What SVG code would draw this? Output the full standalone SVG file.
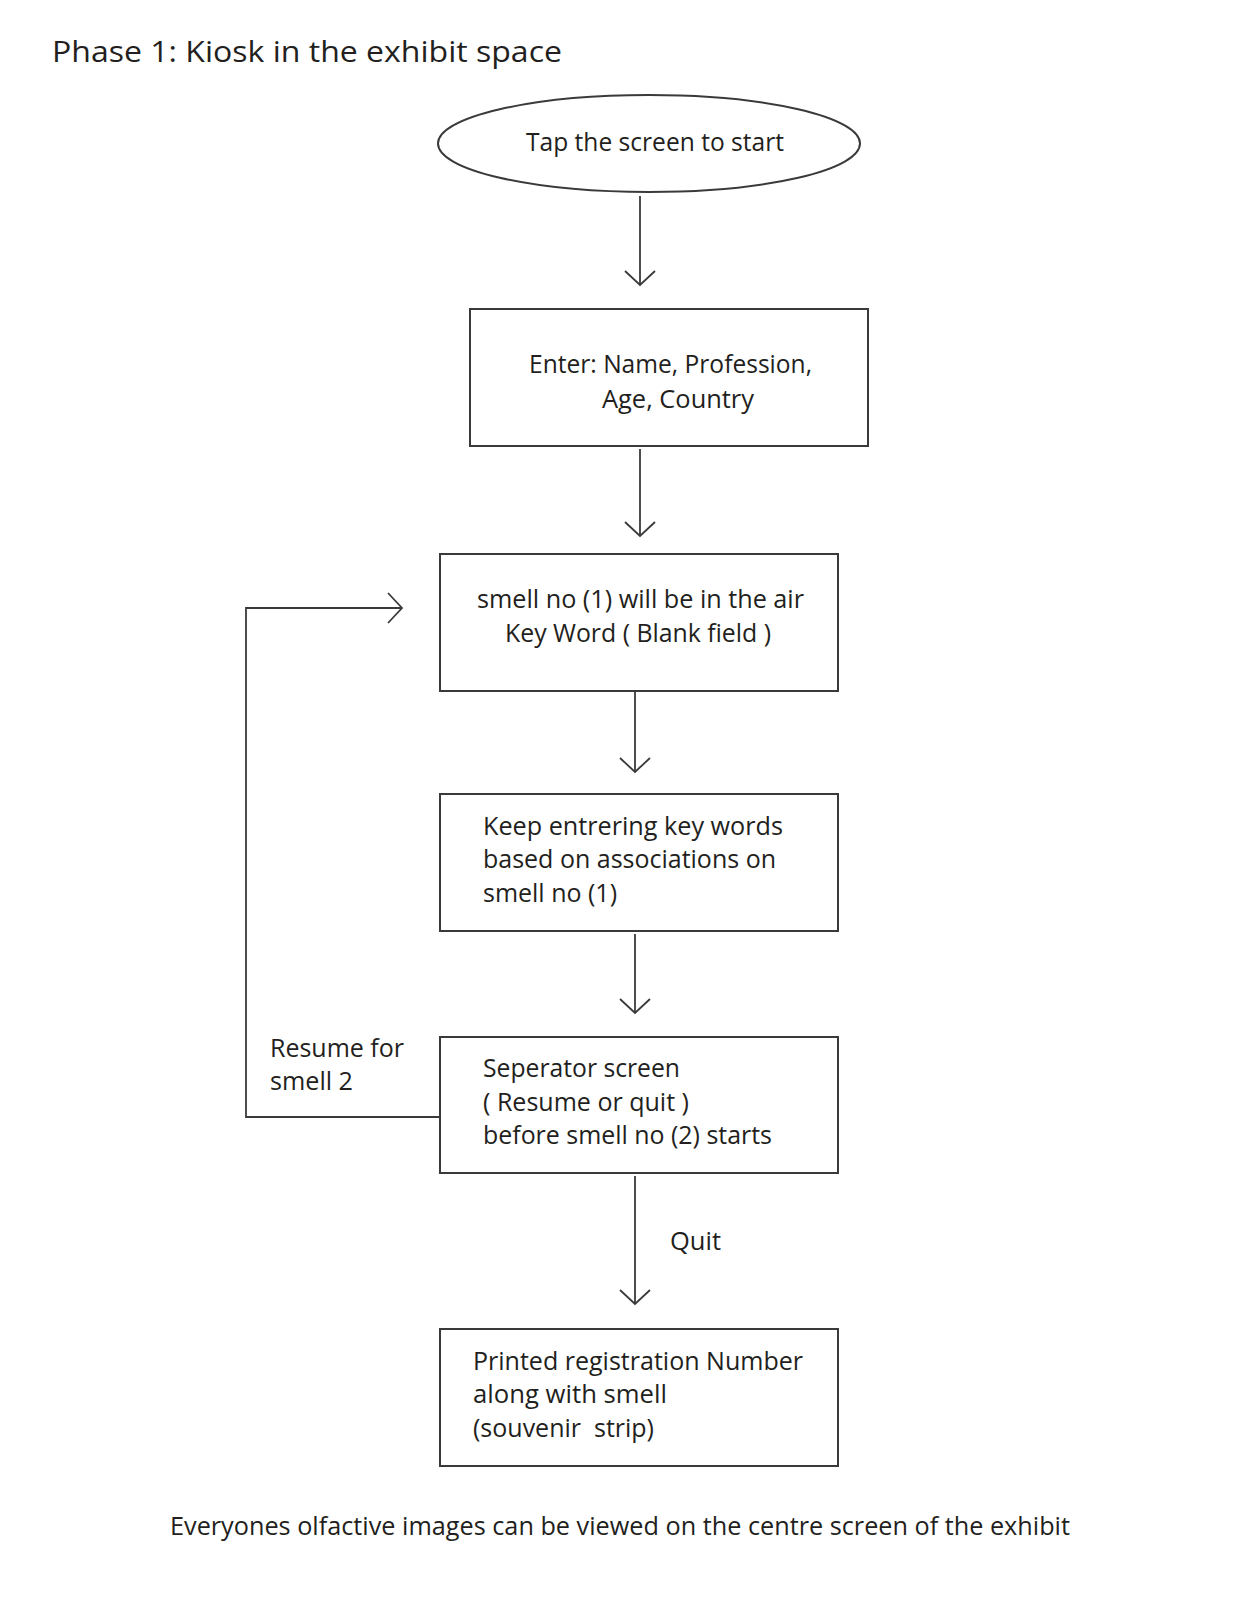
<svg xmlns="http://www.w3.org/2000/svg" width="1236" height="1600" viewBox="0 0 1236 1600">
<style>
  .t { font-family: "Open Sans", "Noto Sans", "Liberation Sans", sans-serif; font-size: 25px; fill: #231f20; white-space: pre; }
  .title { font-size: 30px; }
  .box { fill: #ffffff; stroke: #3a3a3a; stroke-width: 2; }
  .conn { fill: none; stroke: #3a3a3a; stroke-width: 1.8; }
</style>
<defs>
  <marker id="ah" viewBox="-16 -16 18 32" refX="0" refY="0" markerWidth="18" markerHeight="32" markerUnits="userSpaceOnUse" orient="auto">
    <path d="M-14,-15 L0,0 L-14,15" fill="none" stroke="#3a3a3a" stroke-width="1.8"/>
  </marker>
</defs>
<rect x="0" y="0" width="1236" height="1600" fill="#ffffff"/>

<text class="t title" x="52" y="62" textLength="510" lengthAdjust="spacingAndGlyphs">Phase 1: Kiosk in the exhibit space</text>

<g id="connectors">
  <line class="conn" x1="640" y1="196" x2="640" y2="285" marker-end="url(#ah)"/>
  <line class="conn" x1="640" y1="449" x2="640" y2="536" marker-end="url(#ah)"/>
  <line class="conn" x1="635" y1="692" x2="635" y2="772" marker-end="url(#ah)"/>
  <line class="conn" x1="635" y1="934" x2="635" y2="1013" marker-end="url(#ah)"/>
  <line class="conn" x1="635" y1="1176" x2="635" y2="1304" marker-end="url(#ah)"/>
  <polyline class="conn" points="440,1117 246,1117 246,608 402,608" marker-end="url(#ah)"/>
  <text class="t" x="270" y="1057" textLength="134" lengthAdjust="spacingAndGlyphs">Resume for</text>
  <text class="t" x="270" y="1090" textLength="83" lengthAdjust="spacingAndGlyphs">smell 2</text>
  <text class="t" x="670" y="1250" textLength="51" lengthAdjust="spacingAndGlyphs">Quit</text>
</g>

<g id="start">
  <ellipse class="box" cx="649" cy="143.5" rx="211" ry="48.5"/>
  <text class="t" x="526" y="151" textLength="258" lengthAdjust="spacingAndGlyphs">Tap the screen to start</text>
</g>

<g id="enter">
  <rect class="box" x="470" y="309" width="398" height="137"/>
  <text class="t" x="529" y="373" textLength="283" lengthAdjust="spacingAndGlyphs">Enter: Name, Profession,</text>
  <text class="t" x="602" y="408" textLength="152" lengthAdjust="spacingAndGlyphs">Age, Country</text>
</g>

<g id="smell1">
  <rect class="box" x="440" y="554" width="398" height="137"/>
  <text class="t" x="477" y="608" textLength="327" lengthAdjust="spacingAndGlyphs">smell no (1) will be in the air</text>
  <text class="t" x="505" y="642" textLength="266" lengthAdjust="spacingAndGlyphs">Key Word ( Blank field )</text>
</g>

<g id="keywords">
  <rect class="box" x="440" y="794" width="398" height="137"/>
  <text class="t" x="483" y="835" textLength="300" lengthAdjust="spacingAndGlyphs">Keep entrering key words</text>
  <text class="t" x="483" y="868" textLength="293" lengthAdjust="spacingAndGlyphs">based on associations on</text>
  <text class="t" x="483" y="902" textLength="134" lengthAdjust="spacingAndGlyphs">smell no (1)</text>
</g>

<g id="separator">
  <rect class="box" x="440" y="1037" width="398" height="136"/>
  <text class="t" x="483" y="1077" textLength="197" lengthAdjust="spacingAndGlyphs">Seperator screen</text>
  <text class="t" x="483" y="1111" textLength="206" lengthAdjust="spacingAndGlyphs">( Resume or quit )</text>
  <text class="t" x="483" y="1144" textLength="289" lengthAdjust="spacingAndGlyphs">before smell no (2) starts</text>
</g>

<g id="printed">
  <rect class="box" x="440" y="1329" width="398" height="137"/>
  <text class="t" x="473" y="1370" textLength="330" lengthAdjust="spacingAndGlyphs">Printed registration Number</text>
  <text class="t" x="473" y="1403" textLength="194" lengthAdjust="spacingAndGlyphs">along with smell</text>
  <text class="t" x="473" y="1437" textLength="181" lengthAdjust="spacingAndGlyphs">(souvenir  strip)</text>
</g>

<text class="t" x="170" y="1535" textLength="900" lengthAdjust="spacingAndGlyphs">Everyones olfactive images can be viewed on the centre screen of the exhibit</text>
</svg>
